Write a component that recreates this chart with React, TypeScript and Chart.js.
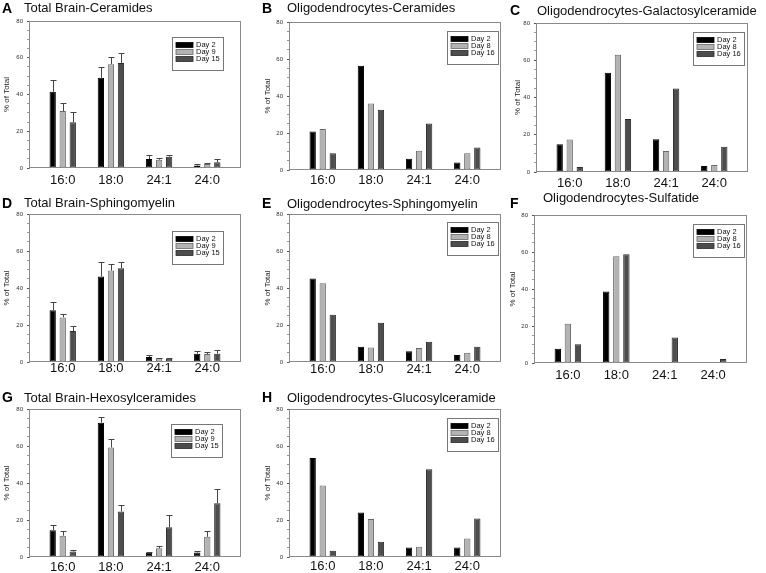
import React, { useEffect, useRef } from 'react';
import { Chart, registerables } from 'chart.js';

Chart.register(...registerables);

const FONT = '"Liberation Sans", Arial, Helvetica, sans-serif';

// ---------- data ----------
const categories = ['16:0', '18:0', '24:1', '24:0'];
const totalBrainDays = ['Day 2', 'Day 9', 'Day 15'];
const oligoDays = ['Day 2', 'Day 8', 'Day 16'];
const yMin = 0;
const yMax = 80;
const yMajorStep = 20;
const yMinorStep = 5;

// A Total Brain-Ceramides
const aDay2 = [41.5, 49.1, 4.9, 1.4];
const aDay9 = [31.0, 56.5, 4.5, 2.2];
const aDay15 = [24.9, 57.2, 6.1, 3.1];
const aDay2Err = [6.3, 5.6, 2.1, 0.6];
const aDay9Err = [4.6, 4.0, 0.9, 0.3];
const aDay15Err = [5.6, 5.4, 0.9, 1.8];

// B Oligodendrocytes-Ceramides
const bDay2 = [20.8, 56.3, 6.1, 4.1];
const bDay8 = [22.2, 35.9, 10.4, 9.0];
const bDay16 = [9.0, 32.6, 25.1, 12.2];

// C Oligodendrocytes-Galactosylceramide
const cDay2 = [14.9, 53.3, 17.6, 3.2];
const cDay8 = [17.4, 63.0, 11.3, 3.8];
const cDay16 = [2.7, 28.5, 44.8, 13.5];

// D Total Brain-Sphingomyelin
const dDay2 = [28.0, 46.2, 2.7, 4.5];
const dDay9 = [24.1, 49.4, 2.0, 4.3];
const dDay15 = [16.7, 50.7, 1.8, 4.5];
const dDay2Err = [4.4, 7.7, 1.1, 1.3];
const dDay9Err = [2.1, 3.5, 0.3, 1.1];
const dDay15Err = [2.9, 3.4, 0.4, 2.0];

// E Oligodendrocytes-Sphingomyelin
const eDay2 = [45.1, 8.3, 5.8, 3.8];
const eDay8 = [42.6, 7.9, 7.6, 5.0];
const eDay16 = [25.5, 21.2, 11.0, 8.3];

// F Oligodendrocytes-Sulfatide
const fDay2 = [7.7, 38.7, null, null];
const fDay8 = [21.2, 57.7, null, null];
const fDay16 = [10.2, 58.8, 13.8, 2.2];

// G Total Brain-Hexosylceramides
const gDay2 = [14.5, 72.6, 2.3, 2.5];
const gDay9 = [11.5, 59.2, 4.7, 10.9];
const gDay15 = [3.0, 24.6, 16.1, 29.1];
const gDay2Err = [2.7, 3.3, 0.6, 0.7];
const gDay9Err = [2.5, 4.8, 1.0, 3.1];
const gDay15Err = [0.8, 3.7, 6.5, 7.5];

// H Oligodendrocytes-Glucosylceramide
const hDay2 = [53.5, 24.0, 5.2, 5.2];
const hDay8 = [38.7, 20.6, 5.6, 10.0];
const hDay16 = [3.4, 8.3, 47.5, 20.8];

// ---------- styles ----------
const seriesColors = ['#000000', '#b3b3b3', '#4d4d4d'];
const seriesBorders = ['#000000', '#686868', '#2a2a2a'];
const Y_AXIS_W = 29;
const PAD_TOP = 8;
const PAD_RIGHT = 4;
const X_AXIS_H = 22;

type PanelSpec = {
  letter: string;
  title: string;
  days: string[];
  values: (number | null)[][];
  errors?: number[][];
  plot: { l: number; r: number; t: number; b: number };
  titlePad: number;
  labelPad: number;
  legend: [number, number];
  letterX: number;
  textX: number;
  letterBase: number;
  textBase: number;
};

const panels: PanelSpec[] = [
  {
    letter: 'A', title: 'Total Brain-Ceramides', days: totalBrainDays,
    values: [aDay2, aDay9, aDay15], errors: [aDay2Err, aDay9Err, aDay15Err],
    plot: { l: 29, r: 241, t: 21, b: 168 }, titlePad: 1.5, labelPad: 4.6,
    legend: [172, 37], letterX: 2, textX: 24, letterBase: 12.7, textBase: 11.7,
  },
  {
    letter: 'B', title: 'Oligodendrocytes-Ceramides', days: oligoDays,
    values: [bDay2, bDay8, bDay16],
    plot: { l: 289, r: 501, t: 22, b: 170 }, titlePad: 3.2, labelPad: 2.6,
    legend: [447, 31], letterX: 262, textX: 287, letterBase: 13.3, textBase: 12.3,
  },
  {
    letter: 'C', title: 'Oligodendrocytes-Galactosylceramide', days: oligoDays,
    values: [cDay2, cDay8, cDay16],
    plot: { l: 536, r: 748, t: 23, b: 172 }, titlePad: 5.5, labelPad: 3.9,
    legend: [693, 32], letterX: 510, textX: 537, letterBase: 15, textBase: 14.5,
  },
  {
    letter: 'D', title: 'Total Brain-Sphingomyelin', days: totalBrainDays,
    values: [dDay2, dDay9, dDay15], errors: [dDay2Err, dDay9Err, dDay15Err],
    plot: { l: 29, r: 241, t: 214, b: 362 }, titlePad: 1.5, labelPad: -1.5,
    legend: [172, 231], letterX: 2, textX: 24, letterBase: 208.3, textBase: 207.3,
  },
  {
    letter: 'E', title: 'Oligodendrocytes-Sphingomyelin', days: oligoDays,
    values: [eDay2, eDay8, eDay16],
    plot: { l: 289, r: 501, t: 214, b: 362 }, titlePad: 3.2, labelPad: 0,
    legend: [447, 222], letterX: 262, textX: 287, letterBase: 207.7, textBase: 207.7,
  },
  {
    letter: 'F', title: 'Oligodendrocytes-Sulfatide', days: oligoDays,
    values: [fDay2, fDay8, fDay16],
    plot: { l: 534, r: 747, t: 215, b: 363 }, titlePad: 3.2, labelPad: 4.9,
    legend: [693, 224], letterX: 510, textX: 543, letterBase: 208.3, textBase: 202.3,
  },
  {
    letter: 'G', title: 'Total Brain-Hexosylceramides', days: totalBrainDays,
    values: [gDay2, gDay9, gDay15], errors: [gDay2Err, gDay9Err, gDay15Err],
    plot: { l: 29, r: 241, t: 409, b: 557 }, titlePad: 1.5, labelPad: 2.9,
    legend: [171, 424], letterX: 2, textX: 24, letterBase: 401.7, textBase: 401.7,
  },
  {
    letter: 'H', title: 'Oligodendrocytes-Glucosylceramide', days: oligoDays,
    values: [hDay2, hDay8, hDay16],
    plot: { l: 289, r: 501, t: 409, b: 557 }, titlePad: 3.2, labelPad: 1.9,
    legend: [447, 418], letterX: 262, textX: 287, letterBase: 401.7, textBase: 401.7,
  },
];

// ---------- plugins ----------
const frameBoxPlugin = {
  id: 'frameBox',
  afterDraw(chart: any) {
    const { ctx, chartArea } = chart;
    const l = Math.round(chartArea.left) + 0.5;
    const t = Math.round(chartArea.top) + 0.5;
    const r = Math.round(chartArea.right) - 0.5;
    const b = Math.round(chartArea.bottom) - 0.5;
    ctx.save();
    ctx.strokeStyle = '#8a8a8a';
    ctx.lineWidth = 1;
    ctx.strokeRect(l, t, r - l, b - t);
    ctx.restore();
  },
};

const errorBarPlugin = {
  id: 'errorBars',
  afterDatasetsDraw(chart: any) {
    const { ctx } = chart;
    const yScale = chart.scales.y;
    chart.data.datasets.forEach((ds: any, i: number) => {
      if (!ds.errors) return;
      const meta = chart.getDatasetMeta(i);
      meta.data.forEach((el: any, j: number) => {
        const raw = ds.data[j];
        const err = ds.errors[j];
        if (!raw || raw.y == null || err == null) return;
        const x = Math.round(el.x) + 0.5;
        const y0 = el.y;
        const y1 = Math.round(yScale.getPixelForValue(raw.y + err)) + 0.5;
        ctx.save();
        ctx.strokeStyle = '#444444';
        ctx.lineWidth = 1;
        ctx.beginPath();
        ctx.moveTo(x, y0);
        ctx.lineTo(x, y1);
        ctx.moveTo(x - 3, y1);
        ctx.lineTo(x + 3, y1);
        ctx.stroke();
        ctx.restore();
      });
    });
  },
};

const boxLegendPlugin = {
  id: 'boxLegend',
  afterDraw(chart: any, _args: any, opts: any) {
    const { ctx } = chart;
    const x = Math.round(opts.x) + 0.5;
    const y = Math.round(opts.y) + 0.5;
    const w = 51;
    const h = 33;
    ctx.save();
    ctx.fillStyle = '#ffffff';
    ctx.fillRect(x, y, w, h);
    ctx.strokeStyle = '#777777';
    ctx.lineWidth = 1;
    ctx.strokeRect(x, y, w, h);
    chart.data.datasets.forEach((ds: any, i: number) => {
      const cy = Math.round(y + 7.5 + i * 7);
      ctx.fillStyle = ds.backgroundColor;
      ctx.fillRect(x + 3.5, cy - 2.5, 17, 5);
      ctx.strokeStyle = ds.borderColor;
      ctx.lineWidth = 0.8;
      ctx.strokeRect(x + 3.5, cy - 2.5, 17, 5);
      ctx.fillStyle = '#111111';
      ctx.font = `7.5px ${FONT}`;
      ctx.textBaseline = 'middle';
      ctx.textAlign = 'left';
      ctx.fillText(ds.label, x + 23.5, cy);
    });
    ctx.restore();
  },
};

// ---------- components ----------
function Panel({ spec }: { spec: PanelSpec }) {
  const ref = useRef<HTMLCanvasElement>(null);
  const { l, r, t, b } = spec.plot;
  const left = l - Y_AXIS_W;
  const top = t - PAD_TOP;
  const width = r + PAD_RIGHT - left;
  const height = b + X_AXIS_H - top;

  useEffect(() => {
    if (!ref.current) return;
    const chart = new Chart(ref.current, {
      type: 'bar',
      data: {
        datasets: spec.values.map((vals, i) => ({
          label: spec.days[i],
          data: vals.map((v, j) => ({ x: j + 1, y: v })),
          errors: spec.errors ? spec.errors[i] : null,
          backgroundColor: seriesColors[i],
          borderColor: seriesBorders[i],
          borderWidth: 1,
          borderSkipped: false,
          barPercentage: 0.63,
          categoryPercentage: 0.625,
        })) as any,
      },
      options: {
        responsive: false,
        maintainAspectRatio: false,
        animation: false,
        devicePixelRatio: 1,
        layout: { padding: { top: PAD_TOP, right: PAD_RIGHT, left: 0, bottom: 0 } },
        plugins: {
          legend: { display: false },
          tooltip: { enabled: false },
          title: { display: false },
          boxLegend: { x: spec.legend[0] - left, y: spec.legend[1] - top },
        } as any,
        scales: {
          x: {
            type: 'linear',
            min: 0.3,
            max: categories.length + 0.7,
            offset: false,
            grid: { display: false, drawTicks: false, offset: false },
            border: { display: false },
            afterBuildTicks: (scale: any) => {
              scale.ticks = categories.map((_, i) => ({ value: i + 1 }));
            },
            afterFit: (scale: any) => {
              scale.height = X_AXIS_H;
            },
            ticks: {
              autoSkip: false,
              maxRotation: 0,
              minRotation: 0,
              padding: spec.labelPad,
              color: '#111111',
              font: { family: FONT, size: 13 },
              callback: (v: any) => categories[Math.round(Number(v)) - 1] ?? '',
            },
          },
          y: {
            type: 'linear',
            min: yMin,
            max: yMax,
            afterFit: (scale: any) => {
              scale.width = Y_AXIS_W;
            },
            grid: {
              drawOnChartArea: false,
              drawTicks: true,
              tickLength: 2,
              tickWidth: 1,
              tickColor: (ctx: any) =>
                ctx.tick && ctx.tick.value % yMajorStep === 0 ? '#555555' : '#9a9a9a',
            },
            border: { display: true, color: '#8a8a8a' },
            ticks: {
              stepSize: yMinorStep,
              autoSkip: false,
              padding: 4,
              color: '#333333',
              font: { family: FONT, size: 6 },
              callback: (v: any) => (Number(v) % yMajorStep === 0 ? String(v) : ''),
            },
            title: {
              display: true,
              text: '% of Total',
              color: '#222222',
              font: { family: FONT, size: 8 },
              padding: { top: spec.titlePad, bottom: 0 },
            },
          },
        },
      },
      plugins: [frameBoxPlugin, errorBarPlugin, boxLegendPlugin],
    });
    return () => chart.destroy();
  }, []);

  return (
    <>
      <canvas
        ref={ref}
        width={width}
        height={height}
        style={{ position: 'absolute', left, top, width, height }}
      />
      <div
        style={{
          position: 'absolute',
          left: spec.letterX,
          top: spec.letterBase - 11.85,
          font: `bold 14px ${FONT}`,
          lineHeight: '14px',
          color: '#000',
          whiteSpace: 'nowrap',
        }}
      >
        {spec.letter}
      </div>
      <div
        style={{
          position: 'absolute',
          left: spec.textX,
          top: spec.textBase - 11.0,
          font: `13px ${FONT}`,
          lineHeight: '13px',
          color: '#111',
          whiteSpace: 'nowrap',
        }}
      >
        {spec.title}
      </div>
    </>
  );
}

export default function App() {
  return (
    <div
      style={{
        position: 'absolute',
        left: 0,
        top: 0,
        width: 766,
        height: 573,
        overflow: 'hidden',
        background: '#ffffff',
      }}
    >
      {panels.map((p) => (
        <Panel key={p.letter} spec={p} />
      ))}
    </div>
  );
}
